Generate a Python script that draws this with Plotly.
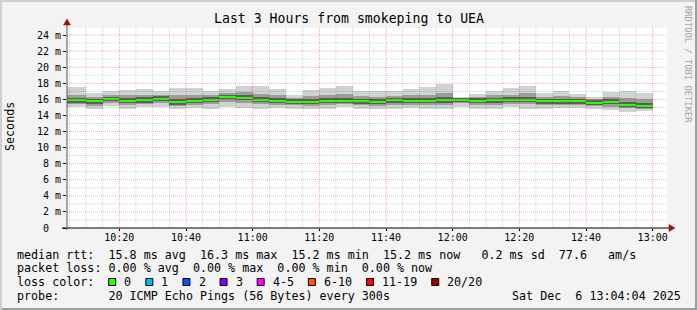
import plotly.graph_objects as go
import pandas as pd

# ---------------- data ----------------
slot_start = pd.date_range("2025-12-06 10:00", periods=36, freq="5min")

median_ms = [15.9, 15.9, 15.75, 16.1, 15.8, 15.9, 16.1, 15.65, 15.85, 15.95, 16.35, 16.2,
             15.95, 15.8, 15.7, 15.7, 15.85, 15.85, 15.75, 15.7, 15.9, 15.85, 15.85, 15.9,
             15.95, 15.85, 15.9, 15.95, 15.95, 15.75, 15.75, 15.75, 15.6, 15.7, 15.35, 15.2]
ping_min = [15.0, 15.0, 14.85, 15.2, 14.85, 15.0, 15.0, 14.85, 14.9, 14.85, 15.1, 14.9,
            14.85, 14.9, 14.85, 14.8, 14.85, 15.0, 14.85, 14.85, 14.85, 14.9, 14.85, 14.8,
            15.1, 14.85, 14.85, 15.0, 14.85, 14.85, 14.9, 14.9, 14.85, 14.7, 14.45, 14.5]
ping_p20 = [15.4, 15.4, 15.2, 15.55, 15.3, 15.4, 15.5, 15.2, 15.35, 15.4, 15.7, 15.6,
            15.4, 15.3, 15.25, 15.15, 15.3, 15.4, 15.25, 15.2, 15.35, 15.3, 15.3, 15.3,
            15.5, 15.3, 15.35, 15.45, 15.4, 15.25, 15.3, 15.3, 15.15, 15.1, 14.9, 14.85]
core_lo = [15.6, 15.6, 15.45, 15.8, 15.5, 15.6, 15.8, 15.35, 15.55, 15.65, 16.0, 15.9,
           15.65, 15.5, 15.4, 15.4, 15.55, 15.55, 15.45, 15.4, 15.6, 15.55, 15.55, 15.55,
           15.7, 15.55, 15.6, 15.65, 15.65, 15.45, 15.45, 15.45, 15.3, 15.4, 15.05, 14.9]
core_hi = [16.2, 16.2, 16.05, 16.35, 16.15, 16.25, 16.4, 16.0, 16.15, 16.25, 16.55, 16.5,
           16.3, 16.15, 16.0, 16.05, 16.15, 16.2, 16.05, 16.0, 16.2, 16.15, 16.2, 16.25,
           16.15, 16.15, 16.2, 16.25, 16.3, 16.05, 16.1, 16.05, 15.9, 16.0, 15.7, 15.55]
ping_p80 = [16.6, 16.6, 16.3, 16.6, 16.5, 16.6, 16.6, 16.5, 16.5, 16.5, 16.8, 16.9,
            16.7, 16.5, 16.2, 16.4, 16.5, 16.7, 16.4, 16.3, 16.45, 16.5, 16.6, 16.8,
            16.15, 16.3, 16.5, 16.6, 16.8, 16.35, 16.45, 16.3, 16.05, 16.3, 16.2, 16.0]
ping_max = [17.6, 17.6, 16.85, 17.1, 17.2, 17.35, 17.1, 17.4, 17.4, 17.1, 17.35, 17.7,
            17.7, 17.25, 16.6, 17.2, 17.4, 17.7, 17.1, 17.1, 17.1, 17.25, 17.5, 17.85,
            16.3, 16.7, 17.1, 17.4, 17.7, 16.85, 17.1, 16.7, 16.35, 16.9, 17.0, 16.85]

y_tick_vals = list(range(0, 25, 2))
y_tick_text = ["0  "] + [f"{v} m" for v in range(2, 25, 2)]
x_tick_labels = ["10:20", "10:40", "11:00", "11:20", "11:40", "12:00", "12:20", "12:40", "13:00"]

title_text = "Last 3 Hours from smokeping to UEA"
y_title = "Seconds"
watermark = "RRDTOOL / TOBI OETIKER"
legend_lines = [
    "median rtt:  15.8 ms avg  16.3 ms max  15.2 ms min  15.2 ms now   0.2 ms sd  77.6   am/s",
    "packet loss: 0.00 % avg  0.00 % max  0.00 % min  0.00 % now",
    "loss color:",
    "probe:       20 ICMP Echo Pings (56 Bytes) every 300s",
]
date_text = "Sat Dec  6 13:04:04 2025"
loss_labels = ["0", "1", "2", "3", "4-5", "6-10", "11-19", "20/20"]
loss_colors = ["#26ff00", "#00b8ff", "#0059ff", "#7e00ff", "#ff00ff", "#ff5500", "#ff0000", "#a10000"]

# ---------------- layout constants ----------------
W, H = 697, 310
PL, PR, PT, PB = 67, 667, 27, 228
MONO = "DejaVu Sans Mono"
x_start = pd.Timestamp("2025-12-06 10:04:18")
x_end = pd.Timestamp("2025-12-06 13:04:18")


def px(x):
    return (x - PL) / (PR - PL)


def py(y):
    return (PB - y) / (PB - PT)


def nb(s):
    return s.replace(" ", "\u00a0")


fig = go.Figure()
centers = slot_start + pd.Timedelta(seconds=150)
step_ms = 300000


def band(lo, hi, color):
    fig.add_trace(go.Bar(x=centers, y=[h - l for l, h in zip(lo, hi)], base=lo,
                         width=step_ms, marker=dict(color=color, line=dict(width=0)),
                         hoverinfo="skip"))


band(ping_min, ping_max, "#d2d2d2")
band(ping_p20, ping_p80, "#9c9c9c")
band(core_lo, core_hi, "#5e5e5e")
med_h = 0.25
fig.add_trace(go.Bar(x=centers, y=[med_h] * len(median_ms), base=[m - med_h / 2 for m in median_ms],
                     width=step_ms, marker=dict(color="#26ff00", line=dict(width=0)),
                     hoverinfo="skip"))

shapes = []
# frame
shapes += [
    dict(type="rect", xref="paper", yref="paper", x0=px(0), x1=px(W), y0=py(0), y1=py(2),
         fillcolor="#cfcfcf", line=dict(width=0), layer="below"),
    dict(type="rect", xref="paper", yref="paper", x0=px(0), x1=px(2), y0=py(0), y1=py(H),
         fillcolor="#cfcfcf", line=dict(width=0), layer="below"),
    dict(type="rect", xref="paper", yref="paper", x0=px(W - 2), x1=px(W), y0=py(0), y1=py(H),
         fillcolor="#9e9e9e", line=dict(width=0), layer="below"),
    dict(type="rect", xref="paper", yref="paper", x0=px(2), x1=px(W), y0=py(H - 2), y1=py(H),
         fillcolor="#9e9e9e", line=dict(width=0), layer="below"),
]
minor_col = "rgba(0,0,0,0.18)"
major_col = "rgba(235,0,0,0.33)"
dash = "1px,1px"
# vertical grid
for t in pd.date_range("2025-12-06 10:05", "2025-12-06 13:00", freq="5min"):
    major = t.minute % 20 == 0
    shapes.append(dict(type="line", xref="x", yref="paper", x0=t, x1=t, y0=0, y1=1,
                       line=dict(color=major_col if major else minor_col, width=1, dash=dash),
                       layer="above"))
# horizontal grid
for v in range(1, 26):
    major = v % 2 == 0
    shapes.append(dict(type="line", xref="paper", yref="y", x0=0, x1=1, y0=v, y1=v,
                       line=dict(color=major_col if major else minor_col, width=1, dash=dash),
                       layer="above"))
# axes lines
shapes.append(dict(type="line", xref="paper", yref="paper", x0=px(62), x1=px(670), y0=0, y1=0,
                   line=dict(color="black", width=1), layer="above"))
shapes.append(dict(type="line", xref="paper", yref="paper", x0=0, x1=0, y0=py(230), y1=py(22),
                   line=dict(color="#555555", width=1), layer="above"))
arrow_col = "#9a0f0f"
shapes.append(dict(type="path", xref="paper", yref="paper",
                   path=f"M {px(669)} {py(224.5)} L {px(675)} {py(228)} L {px(669)} {py(231.5)} Z",
                   fillcolor=arrow_col, line=dict(color=arrow_col, width=0.5), layer="above"))
shapes.append(dict(type="path", xref="paper", yref="paper",
                   path=f"M {px(63.5)} {py(25)} L {px(67)} {py(19)} L {px(70.5)} {py(25)} Z",
                   fillcolor=arrow_col, line=dict(color=arrow_col, width=0.5), layer="above"))

annotations = []


def ann(text, x, y, size, xanchor="left", color="black", angle=0):
    annotations.append(dict(text=nb(text), xref="paper", yref="paper", x=px(x), y=py(y),
                            xanchor=xanchor, yanchor="middle", showarrow=False,
                            textangle=angle, borderpad=0,
                            font=dict(family=MONO, size=size, color=color)))


ann(title_text, 348.5, 19, 13.2, xanchor="center")
ann(y_title, 10, 127, 11.7, xanchor="center", angle=-90)
ann(watermark, 688, 64, 8.8, xanchor="center", color="#a4a4a4", angle=90)

line_y = [254.7, 268.4, 282.2, 296]
CW = 7.02
for txt, yy in zip(legend_lines, line_y):
    ann(txt, 16, yy, 11.7)
ann(date_text, 682, line_y[3], 11.7, xanchor="right")

xx = 108.7
for lab, col in zip(loss_labels, loss_colors):
    shapes.append(dict(type="rect", xref="paper", yref="paper",
                       x0=px(xx), x1=px(xx + 7), y0=py(278.5), y1=py(285.5),
                       fillcolor=col, line=dict(color="black", width=1), layer="above"))
    lx = xx + 14.6
    ann(lab, lx, line_y[2], 11.7)
    xx = lx + len(lab) * CW + 15.5

fig.update_layout(
    width=W, height=H, autosize=False,
    margin=dict(l=PL, r=W - PR, t=PT, b=H - PB, pad=0),
    paper_bgcolor="#f3f3f3", plot_bgcolor="#ffffff",
    barmode="overlay", bargap=0, showlegend=False,
    shapes=shapes, annotations=annotations,
    xaxis=dict(type="date", range=[x_start, x_end], showgrid=False, zeroline=False,
               showline=False, tickmode="array",
               tickvals=[pd.Timestamp("2025-12-06 " + s) for s in x_tick_labels],
               ticktext=x_tick_labels, ticks="outside", ticklen=2, tickcolor="black",
               ticklabelstandoff=-2,
               tickfont=dict(family=MONO, size=10, color="black"), fixedrange=True),
    yaxis=dict(range=[0, 25], showgrid=False, zeroline=False, showline=False,
               tickmode="array", tickvals=y_tick_vals, ticktext=[nb(t) for t in y_tick_text],
               ticks="outside", ticklen=3, tickcolor="black",
               tickfont=dict(family=MONO, size=10, color="black"), fixedrange=True),
)

fig.write_html("out.html")
